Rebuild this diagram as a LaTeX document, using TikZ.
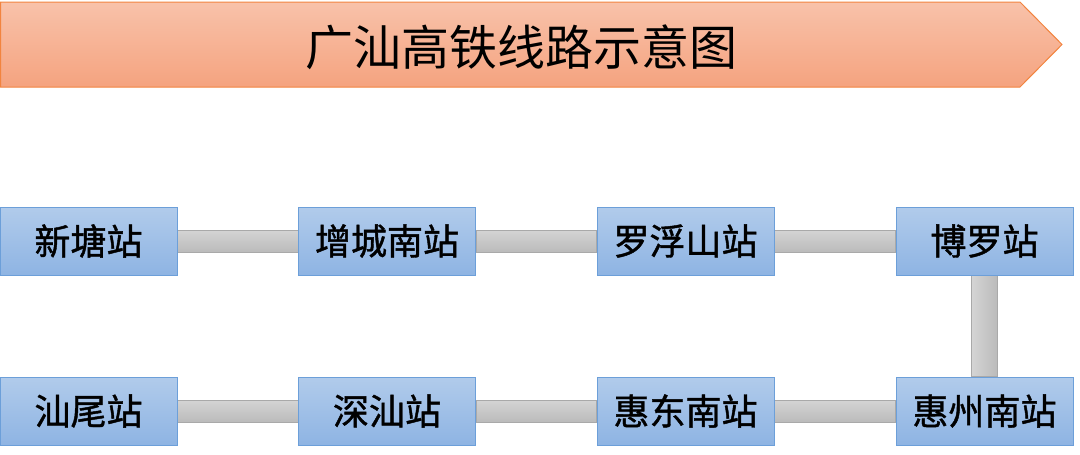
\documentclass[tikz,border=0pt]{standalone}
\usepackage{fontspec}
\usetikzlibrary{backgrounds}
\newfontfamily\cjk{Noto Sans CJK SC}
\newfontfamily\cjkm[FakeBold=1.2]{Noto Sans CJK SC}
\definecolor{boxtop}{HTML}{B1CBEB}
\definecolor{boxbot}{HTML}{8EB4E3}
\definecolor{boxline}{HTML}{6C9FD9}
\definecolor{bartop}{HTML}{D4D4D4}
\definecolor{barbot}{HTML}{BBBBBB}
\definecolor{barline}{HTML}{A9A9A9}
\definecolor{bantop}{HTML}{F8C2AA}
\definecolor{banbot}{HTML}{F5A37F}
\definecolor{banline}{HTML}{F2843F}
\tikzset{
  station/.style={draw=boxline, line width=1pt, top color=boxtop, bottom color=boxbot,
    minimum width=177pt, minimum height=68pt, inner sep=0pt, font=\cjkm\fontsize{36}{38}\selectfont, text=black},
  hbar/.style={draw=barline, line width=0.8pt, top color=bartop, bottom color=barbot},
  vbar/.style={draw=barline, line width=0.8pt, left color=bartop, right color=barbot},
}
\begin{document}
\begin{tikzpicture}[x=1pt,y=-1pt]
\useasboundingbox (0,0) rectangle (1080,455);
% banner
\draw[banline, line width=1pt, top color=bantop, bottom color=banbot]
  (0.5,2) -- (1020,2) -- (1062,44.5) -- (1020,87) -- (0.5,87) -- cycle;
\node[font=\cjk\fontsize{48}{50}\selectfont, text=black] (title) at (521,47) {广汕高铁线路示意图};
% stations
\node[station] (s1) at (88.5,241) {新塘站};
\node[station] (s2) at (387,241) {增城南站};
\node[station] (s3) at (685.5,241) {罗浮山站};
\node[station] (s4) at (984.5,241) {博罗站};
\node[station] (s5) at (984.5,411) {惠州南站};
\node[station] (s6) at (685.5,411) {惠东南站};
\node[station] (s7) at (387,411) {深汕站};
\node[station] (s8) at (88.5,411) {汕尾站};
% connectors
\begin{scope}[on background layer]
\foreach \a/\b in {s1/s2,s2/s3,s3/s4,s8/s7,s7/s6,s6/s5}
  \path[hbar] ([yshift=11pt]\a.east) rectangle ([yshift=-11pt]\b.west);
\path[vbar] ([xshift=-13pt]s4.south) rectangle ([xshift=13pt]s5.north);
\end{scope}
\end{tikzpicture}
\end{document}
